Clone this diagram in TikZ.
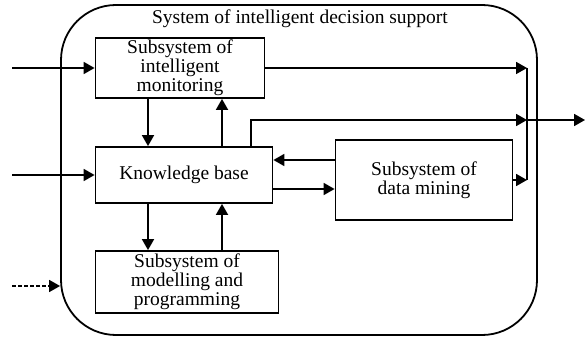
\documentclass[tikz,border=0pt]{standalone}
\usepackage{fontspec}
\setmainfont{Liberation Serif}
\usetikzlibrary{arrows.meta}
\tikzset{
  blok/.style={draw,line width=1.8pt,align=center,inner sep=0pt,font=\fontsize{19.5}{19}\selectfont},
}
\begin{document}
\begin{tikzpicture}[x=1pt,y=-1pt,line width=1.8pt,>={Triangle[length=11pt,width=12pt]}]
\useasboundingbox (0,0) rectangle (586,339);
\node[draw,rounded corners=55pt,minimum width=476pt,minimum height=330pt] (sys) at (299,170) {};
\node[font=\fontsize{19.5}{19}\selectfont] (titre) at (300,19) {System of intelligent decision support};
\node[blok,minimum width=169pt,minimum height=60pt] (mon) at (180,68) {Subsystem of\\intelligent\\monitoring};
\node[blok,minimum width=177pt,minimum height=56pt] (kb) at (184,175) {Knowledge base};
\node[blok,minimum width=183pt,minimum height=62pt] (mod) at (187,282) {Subsystem of\\modelling and\\programming};
\node[blok,minimum width=177pt,minimum height=80pt] (dm) at (424,180) {Subsystem of\\data mining};
% points de passage
\coordinate (c1) at (148,0);
\coordinate (c2) at (222,0);
\coordinate (c3) at (251,0);
\coordinate (r1) at (0,160);
\coordinate (r2) at (0,189);
\coordinate (bus) at (527,120);
\coordinate (out) at (585,120);
\coordinate (in1) at (12,68);
\coordinate (in2) at (12,175);
\coordinate (in3) at (12,286);
\draw[->] (in1) -- (mon.west);
\draw[->] (in2) -- (kb.west);
\draw[->,dash pattern=on 4pt off 2pt,line width=1.5pt] (in3) -- (in3 -| sys.west);
\draw[->] (mon.south -| c1) -- (kb.north -| c1);
\draw[->] (kb.north -| c2) -- (mon.south -| c2);
\draw[->] (kb.south -| c1) -- (mod.north -| c1);
\draw[->] (mod.north -| c2) -- (kb.south -| c2);
\draw[->] (dm.west |- r1) -- (kb.east |- r1);
\draw[->] (kb.east |- r2) -- (dm.west |- r2);
\draw[->] (kb.north -| c3) |- (bus);
\draw[->] (bus) -- (out);
\draw[->] (mon.east) -- (mon.east -| bus);
\draw[->] (dm.east) -- (dm.east -| bus);
\draw (mon.east -| bus) -- (dm.east -| bus);
\end{tikzpicture}
\end{document}
